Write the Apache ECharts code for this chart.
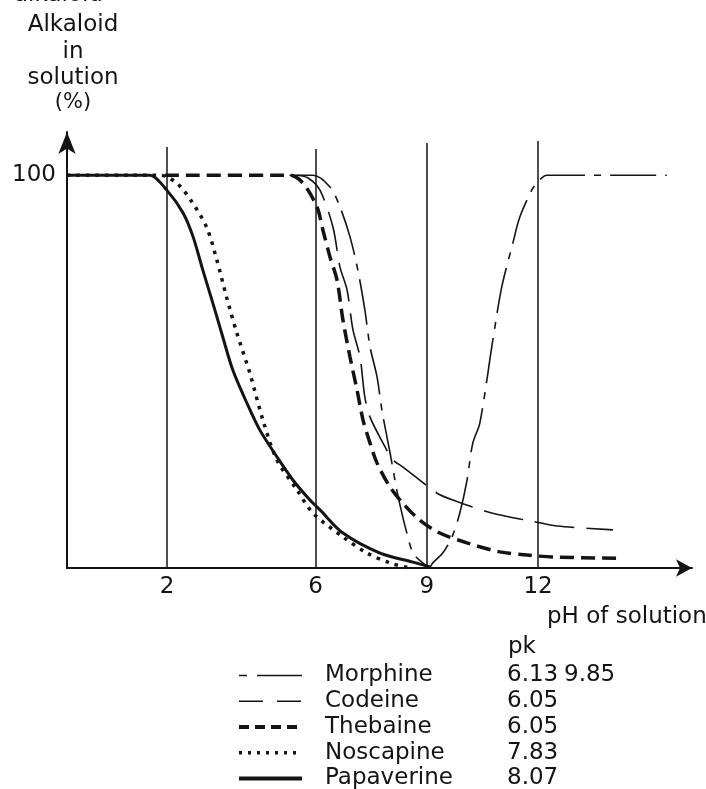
<!DOCTYPE html>
<html lang="en">
<head>
    <meta charset="UTF-8">
    <title>Alkaloid in solution vs pH</title>
    <script src="https://cdn.jsdelivr.net/npm/echarts@6/dist/echarts.min.js"></script>
    <style>
        html, body { margin: 0; padding: 0; background: #fff; }
        #chart { width: 706px; height: 789px; }
    </style>
</head>
<body>
<div id="chart"></div>
<script>
    var FONT = 'DejaVu Sans';
    var INK = '#141414';

    // pH of solution / % alkaloid in solution
    var morphinePH  = [5.3, 5.93, 6.39, 6.66, 6.93, 7.14, 7.33, 7.47, 7.66, 7.79, 8.01, 8.19, 8.29, 8.44, 8.63, 8.89, 9.08, 9.16, 9.43, 9.68, 9.89, 10.08, 10.24, 10.43, 10.78, 11.02, 11.32, 11.51, 11.83, 11.99, 12.24, 15.47];
    var morphinePct = [100, 100, 97.0, 91.9, 84.3, 75.9, 65.7, 56.3, 48.6, 40.2, 29.3, 19.9, 15.5, 9.7, 3.8, 1.3, 0.3, 1.3, 3.8, 7.9, 14.0, 22.1, 31.8, 36.9, 58.0, 71.5, 82.7, 89.4, 96.2, 98.3, 100, 100];

    var codeinePH  = [5.5, 5.8, 6.12, 6.47, 6.66, 6.85, 7.01, 7.2, 7.33, 7.47, 7.82, 8.09, 8.36, 9.27, 9.7, 10.75, 11.78, 12.51, 14.02];
    var codeinePct = [100, 99.3, 96.2, 86.8, 76.6, 70.8, 60.6, 53.7, 43.5, 38.4, 31.8, 27.5, 25.7, 19.1, 17.3, 14.0, 12.0, 10.7, 9.7];

    var thebainePH  = [1.94, 5.3, 5.66, 6.04, 6.2, 6.39, 6.58, 6.74, 6.93, 7.12, 7.28, 7.47, 7.66, 8.01, 8.4, 8.81, 9.35, 10.08, 10.97, 11.7, 12.4, 14.12];
    var thebainePct = [100, 100, 98.0, 91.9, 86.0, 79.2, 73.3, 63.1, 53.7, 45.3, 37.7, 31.8, 26.7, 20.6, 16.0, 12.2, 8.9, 6.4, 4.1, 3.3, 2.8, 2.5];

    var noscapinePH  = [-0.7, 1.0, 1.81, 2.26, 2.67, 3.07, 3.34, 3.61, 3.88, 4.23, 4.58, 4.96, 5.5, 5.93, 6.74, 7.39, 8.0, 8.54];
    var noscapinePct = [100, 100, 100, 98.0, 93.2, 86.6, 78.4, 68.7, 59.8, 49.6, 37.7, 27.5, 19.9, 14.0, 7.9, 3.8, 1.3, 0];

    var papaverinePH  = [-0.7, 1.0, 1.54, 1.99, 2.43, 2.7, 2.96, 3.23, 3.5, 3.77, 4.15, 4.5, 4.96, 5.39, 5.85, 6.12, 6.74, 7.74, 8.63, 9.08];
    var papaverinePct = [100, 100, 100, 96.2, 90.4, 84.3, 75.9, 67.5, 58.8, 50.4, 42.0, 35.1, 28.3, 22.4, 17.3, 14.8, 8.9, 3.8, 1.5, 0.3];

    // guide lines and their tick labels
    var guidePH  = [2, 6, 9, 12];
    var guideTop = [107.2, 106.7, 108.2, 108.7];

    // legend table
    var alkaloidNames = ['Morphine', 'Codeine', 'Thebaine', 'Noscapine', 'Papaverine'];
    var pk1 = ['6.13', '6.05', '6.05', '7.83', '8.07'];
    var pk2 = ['9.85', '', '', '', ''];

    function zip(xs, ys) {
        var out = [];
        for (var i = 0; i < xs.length; i++) out.push([xs[i], ys[i]]);
        return out;
    }

    var styles = {
        Morphine:   { type: [46, 9, 7, 9], width: 1.6 },
        Codeine:    { type: [40, 12], width: 1.6 },
        Thebaine:   { type: [14, 7], width: 3.5 },
        Noscapine:  { type: [3.5, 6], width: 3.5 },
        Papaverine: { type: 'solid', width: 3 }
    };
    var legendStyles = {
        Morphine:   { type: [8, 10, 45, 0], width: 1.6 },
        Codeine:    { type: [24, 14], width: 1.6 },
        Thebaine:   { type: [10, 6], width: 4 },
        Noscapine:  { type: [3, 6], width: 3.5 },
        Papaverine: { type: 'solid', width: 4 }
    };
    var seriesData = {
        Morphine: zip(morphinePH, morphinePct),
        Codeine: zip(codeinePH, codeinePct),
        Thebaine: zip(thebainePH, thebainePct),
        Noscapine: zip(noscapinePH, noscapinePct),
        Papaverine: zip(papaverinePH, papaverinePct)
    };

    var series = [];
    alkaloidNames.forEach(function (name, i) {
        series.push({
            name: name,
            type: 'line',
            data: seriesData[name],
            symbol: 'none',
            smooth: 0.3,
            z: 3 + i,
            itemStyle: { color: INK },
            lineStyle: { color: INK, width: styles[name].width, type: styles[name].type }
        });
    });

    // vertical guide lines at the marked pH values
    var guides = [];
    for (var g = 0; g < guidePH.length; g++) {
        guides.push([{ coord: [guidePH[g], 0], name: String(guidePH[g]) }, { coord: [guidePH[g], guideTop[g]] }]);
    }
    series.push({
        name: 'guides',
        type: 'line',
        data: [],
        z: 2,
        markLine: {
            silent: true,
            symbol: ['none', 'none'],
            lineStyle: { color: INK, width: 1.5, type: 'solid' },
            label: {
                position: 'start',
                formatter: '{b}',
                distance: 8,
                color: INK,
                fontFamily: FONT,
                fontSize: 23
            },
            data: guides
        }
    });

    var richBase = { color: INK, fontFamily: FONT, fontSize: 23, lineHeight: 23 };

    var chart = echarts.init(document.getElementById('chart'));
    chart.setOption({
        backgroundColor: '#fff',
        animation: false,
        grid: { left: 67, right: 14, top: 132, bottom: 221 },
        xAxis: {
            type: 'value',
            min: -0.7,
            max: 16.15,
            axisLine: { lineStyle: { color: INK, width: 2 }, symbol: ['none', 'arrow'], symbolSize: [13, 16] },
            axisTick: { show: false },
            axisLabel: { show: false },
            splitLine: { show: false }
        },
        yAxis: {
            type: 'value',
            min: 0,
            max: 111,
            interval: 100,
            axisLine: { show: true, onZero: false, lineStyle: { color: INK, width: 2 }, symbol: ['none', 'arrow'], symbolSize: [13, 22] },
            axisTick: { show: false },
            axisLabel: {
                margin: 11,
                color: INK,
                fontFamily: FONT,
                fontSize: 23,
                formatter: function (v) { return v === 100 ? '100' : ''; }
            },
            splitLine: { show: false }
        },
        legend: {
            orient: 'vertical',
            left: 237,
            top: 664,
            height: 160,
            padding: 0,
            itemWidth: 63,
            itemHeight: 14,
            itemGap: 2.75,
            selectedMode: false,
            itemStyle: { opacity: 0 },
            textStyle: {
                color: INK, fontFamily: FONT, fontSize: 23, lineHeight: 23,
                rich: {
                    n: Object.assign({ width: 182, padding: [0, 0, 0, 18] }, richBase),
                    v: Object.assign({ width: 57 }, richBase),
                    w: Object.assign({}, richBase)
                }
            },
            formatter: function (name) {
                var i = alkaloidNames.indexOf(name);
                return '{n|' + name + '}{v|' + pk1[i] + '}{w|' + pk2[i] + '}';
            },
            data: alkaloidNames.map(function (name) {
                return {
                    name: name,
                    itemStyle: { opacity: 0 },
                    lineStyle: { color: INK, width: legendStyles[name].width, type: legendStyles[name].type }
                };
            })
        },
        graphic: [
            { type: 'text', left: 14, top: -16, style: { text: 'alkaloid', font: '23px "DejaVu Sans"', fill: INK } },
            { type: 'text', x: 73, y: 25, style: { text: 'Alkaloid', font: '23px "DejaVu Sans"', fill: INK, align: 'center', verticalAlign: 'middle' } },
            { type: 'text', x: 73, y: 52, style: { text: 'in', font: '23px "DejaVu Sans"', fill: INK, align: 'center', verticalAlign: 'middle' } },
            { type: 'text', x: 73, y: 78, style: { text: 'solution', font: '23px "DejaVu Sans"', fill: INK, align: 'center', verticalAlign: 'middle' } },
            { type: 'text', x: 73, y: 103, style: { text: '(%)', font: '21px "DejaVu Sans"', fill: INK, align: 'center', verticalAlign: 'middle' } },
            { type: 'text', x: 547, y: 617, style: { text: 'pH of solution', font: '23px "DejaVu Sans"', fill: INK, align: 'left', verticalAlign: 'middle' } },
            { type: 'text', x: 508, y: 647, style: { text: 'pk', font: '23px "DejaVu Sans"', fill: INK, align: 'left', verticalAlign: 'middle' } }
        ],
        series: series
    });
</script>
</body>
</html>
